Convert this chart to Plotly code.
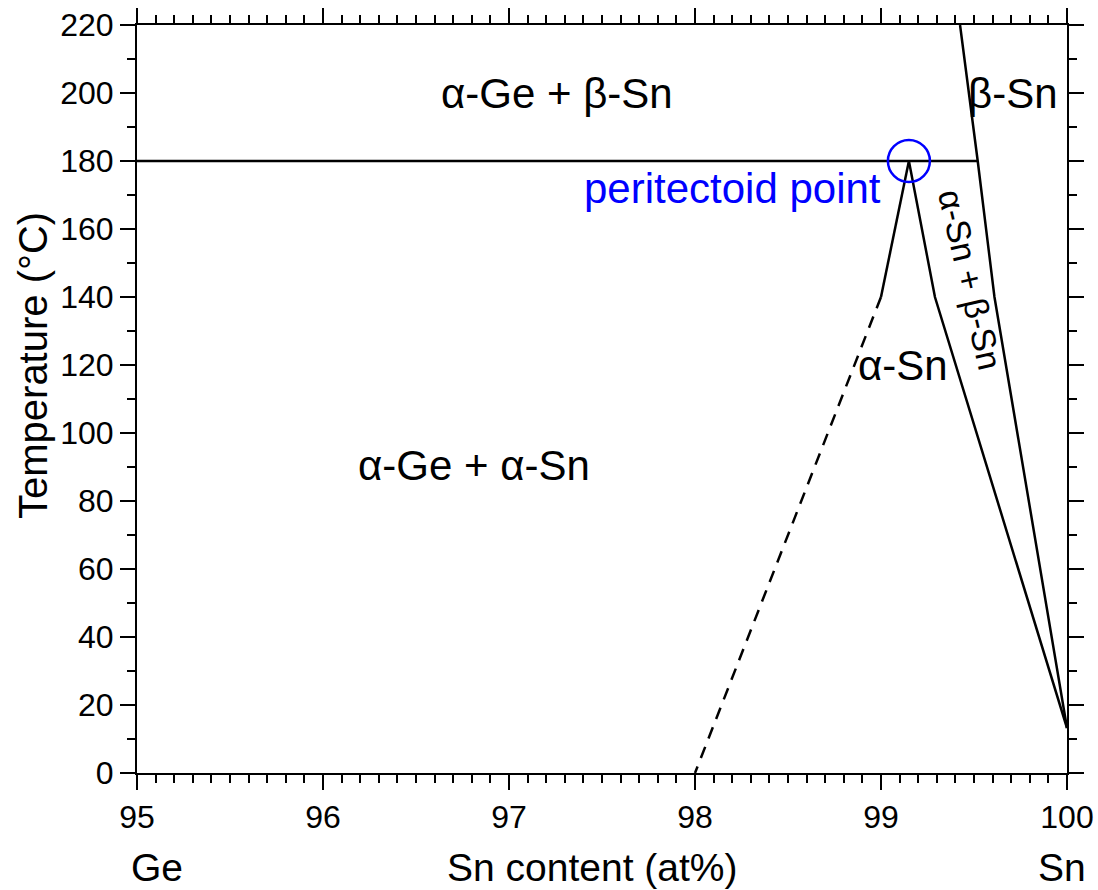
import plotly.graph_objects as go

# ---- data (Sn content in at%, temperature in °C) ----
eutectoid_x = [95.0, 99.52]
eutectoid_T = [180, 180]

beta_solvus_x = [99.425, 99.52, 99.61, 100.0]
beta_solvus_T = [220, 180, 140, 13.2]

alpha_left_solid_x = [99.15, 99.0]
alpha_left_solid_T = [180, 140]

alpha_left_dash_x = [99.0, 98.0]
alpha_left_dash_T = [140, 0]

alpha_right_x = [99.15, 99.29, 100.0]
alpha_right_T = [180, 140, 13.2]

peritectoid_x = [99.15]
peritectoid_T = [180]

x_ticks = [95, 96, 97, 98, 99, 100]
y_ticks = [0, 20, 40, 60, 80, 100, 120, 140, 160, 180, 200, 220]

FONT = "Liberation Sans, Arial, sans-serif"
LW = 2.5

fig = go.Figure()

def line(x, y, dash="solid"):
    fig.add_trace(go.Scatter(x=x, y=y, mode="lines",
                             line=dict(color="black", width=LW, dash=dash),
                             showlegend=False, cliponaxis=False, hoverinfo="skip"))

line(eutectoid_x, eutectoid_T)
line(beta_solvus_x, beta_solvus_T)
line(alpha_left_solid_x, alpha_left_solid_T)
line(alpha_left_dash_x, alpha_left_dash_T, dash="12px,9px")
line(alpha_right_x, alpha_right_T)

fig.add_trace(go.Scatter(x=peritectoid_x, y=peritectoid_T, mode="markers",
                         marker=dict(symbol="circle-open", size=42,
                                     line=dict(color="#0000ff", width=2.5),
                                     color="#0000ff"),
                         showlegend=False, cliponaxis=False, hoverinfo="skip"))

def label(x, y, text, size=42, color="black", angle=0):
    fig.add_annotation(x=x, y=y, xref="x", yref="y", text=text, showarrow=False,
                       textangle=angle, xanchor="center", yanchor="middle",
                       font=dict(family=FONT, size=size, color=color))

label(97.26, 200, "α-Ge + β-Sn")
label(96.81, 90.5, "α-Ge + α-Sn")
label(99.71, 200, "β-Sn")
label(99.12, 120, "α-Sn")
label(99.48, 145, "α-Sn + β-Sn", size=34, angle=77)
label(98.20, 172, "peritectoid point", color="#0000ff")

def plabel(px, py, text, size=39, angle=0):
    fig.add_annotation(x=(px - 137) / 930, y=(773 - py) / 748, xref="paper", yref="paper",
                       text=text, showarrow=False, textangle=angle,
                       xanchor="center", yanchor="middle",
                       font=dict(family=FONT, size=size, color="black"))

plabel(157, 867, "Ge")
plabel(1062, 867, "Sn")
plabel(592, 867, "Sn content (at%)")
plabel(33, 366, "Temperature (°C)", size=40, angle=-90)

axis_common = dict(showline=True, linewidth=2, linecolor="black", mirror="allticks",
                   ticks="outside", ticklen=15, tickwidth=2, tickcolor="black",
                   showgrid=False, zeroline=False, automargin=False,
                   tickfont=dict(family=FONT, size=32, color="black"))

fig.update_xaxes(range=[95, 100], tickvals=x_ticks, ticktext=[str(v) for v in x_ticks],
                 minor=dict(dtick=0.1, tick0=95, ticklen=8, tickwidth=2, ticks="outside",
                            tickcolor="black", showgrid=False),
                 **axis_common)
fig.update_yaxes(range=[0, 220], tickvals=y_ticks, ticktext=[str(v) for v in y_ticks],
                 minor=dict(dtick=10, tick0=0, ticklen=8, tickwidth=2, ticks="outside",
                            tickcolor="black", showgrid=False),
                 **axis_common)

fig.update_layout(width=1098, height=890,
                  margin=dict(l=137, r=31, t=25, b=117, autoexpand=False),
                  plot_bgcolor="white", paper_bgcolor="white",
                  font=dict(family=FONT, color="black"))

fig.write_html("out.html")
